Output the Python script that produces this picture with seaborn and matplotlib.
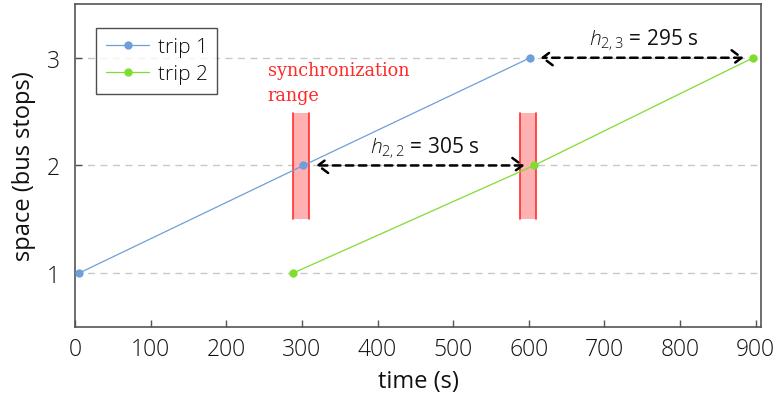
import matplotlib
matplotlib.use("Agg")
import matplotlib.pyplot as plt
import seaborn as sns
import pandas as pd
from matplotlib.patches import Rectangle

# data
trip1_time = [5, 302, 602]
trip1_stop = [1, 2, 3]
trip2_time = [288, 607, 897]
trip2_stop = [1, 2, 3]
trip_labels = ["trip 1", "trip 2"]
x_ticks = [0, 100, 200, 300, 400, 500, 600, 700, 800, 900]
y_ticks = [1, 2, 3]
sync_ranges = [(288, 309), (588, 609)]
headway_labels = ["$h_{2,2}$ = 305 s", "$h_{2,3}$ = 295 s"]

sns.set_theme(style="white")
plt.rcParams['font.family'] = ['Open Sans', 'DejaVu Sans']
plt.rcParams['font.weight'] = 'light'
plt.rcParams['mathtext.fontset'] = 'custom'
plt.rcParams['mathtext.it'] = 'Open Sans:italic'
plt.rcParams['mathtext.rm'] = 'Open Sans'

df = pd.DataFrame({
    "time": trip1_time + trip2_time,
    "stop": trip1_stop + trip2_stop,
    "trip": [trip_labels[0]] * 3 + [trip_labels[1]] * 3,
})

fig = plt.figure(figsize=(7.74, 4.06), dpi=100)
ax = fig.add_axes([0.097, 0.192, 0.886, 0.796])

for y in y_ticks:
    ax.axhline(y, color="#c8c8c8", ls=(0, (5, 4)), lw=1, zorder=0)

# sync ranges
for (x0, x1) in sync_ranges:
    ax.add_patch(Rectangle((x0, 1.5), x1 - x0, 0.99, facecolor="#ffb0b0",
                           edgecolor="none", zorder=1))
    ax.plot([x0, x0], [1.5, 2.49], color="#ff3030", lw=1.2, zorder=1)
    ax.plot([x1, x1], [1.5, 2.49], color="#ff3030", lw=1.2, zorder=1)

palette = {trip_labels[0]: "#6f9fd8", trip_labels[1]: "#80dc30"}
sns.lineplot(data=df, x="time", y="stop", hue="trip", palette=palette,
             marker="o", markersize=6, markeredgewidth=0, lw=0.9, ax=ax,
             zorder=3)

# headway arrows
arrow_kw = dict(arrowstyle="<->,head_length=0.6,head_width=0.45",
                color="black", lw=1.8, ls=(0, (3, 2.2)))
ax.annotate("", xy=(315, 2), xytext=(598, 2),
            arrowprops=arrow_kw, zorder=4)
ax.annotate("", xy=(612, 3), xytext=(888, 3),
            arrowprops=arrow_kw, zorder=4)
ax.text(463, 2.17, headway_labels[0], ha="center", va="center", fontsize=15,
        color="#111111", weight="normal")
ax.text(752, 3.17, headway_labels[1], ha="center", va="center", fontsize=15,
        color="#111111", weight="normal")

ax.text(255, 2.89, "synchronization", family="DejaVu Serif", color="#ff2a2a",
        fontsize=12.7, ha="left", va="center", weight="normal")
ax.text(255, 2.65, "range", family="DejaVu Serif", color="#ff2a2a",
        fontsize=12.7, ha="left", va="center", weight="normal")

ax.set_xlim(0, 907)
ax.set_ylim(0.5, 3.5)
ax.set_xticks(x_ticks)
ax.set_yticks(y_ticks)
ax.tick_params(axis="both", direction="in", length=5, width=1,
               color="#555555", labelsize=16.5, labelcolor="#111111")
ax.tick_params(axis="x", top=False, bottom=True, pad=7)
ax.tick_params(axis="y", left=True, right=False, pad=11)
for s in ax.spines.values():
    s.set_color("#555555")
    s.set_linewidth(1.2)
ax.set_xlabel("time (s)", fontsize=17, color="#111111", labelpad=6)
ax.set_ylabel("space (bus stops)", fontsize=17, color="#111111", labelpad=8)

leg = ax.legend(loc="upper left", bbox_to_anchor=(0.031, 0.926),
                borderaxespad=0, fontsize=15,
                frameon=True, fancybox=False, edgecolor="#222222",
                handlelength=2.1, handletextpad=0.4, borderpad=0.45,
                labelspacing=0.35)
leg.get_frame().set_linewidth(1)
for t in leg.get_texts():
    t.set_color("#111111")
leg.set_title(None)

fig.savefig("out.png", dpi=100)
